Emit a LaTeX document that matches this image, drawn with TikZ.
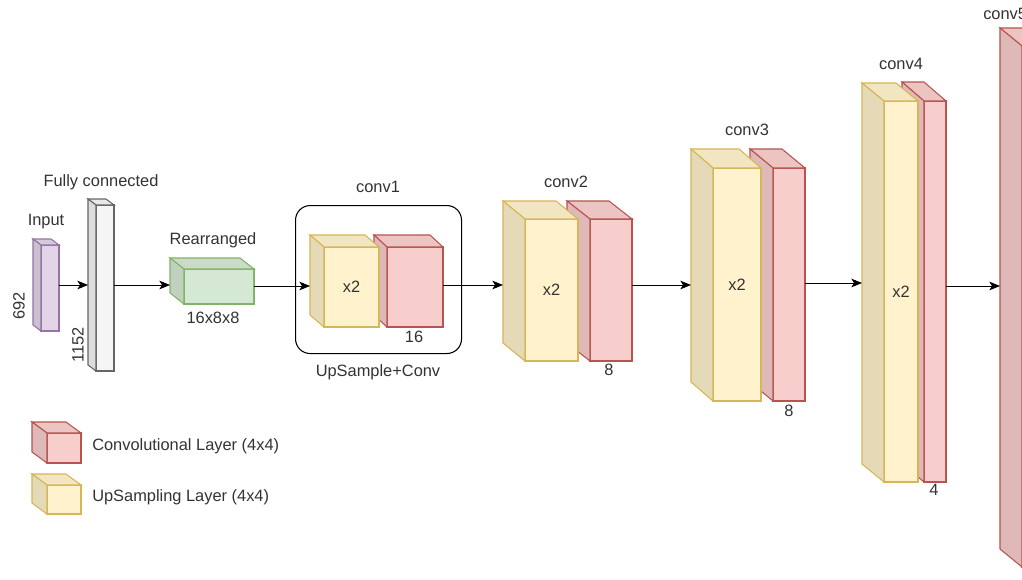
\documentclass[tikz,border=0pt]{standalone}
\usepackage{fontspec}
\setmainfont{Liberation Sans}
\usetikzlibrary{arrows.meta}
\definecolor{redF}{HTML}{F8CECC}\definecolor{redS}{HTML}{B85450}
\definecolor{yelF}{HTML}{FFF2CC}\definecolor{yelS}{HTML}{D6B656}
\definecolor{grnF}{HTML}{D5E8D4}\definecolor{grnS}{HTML}{82B366}
\definecolor{purF}{HTML}{E1D5E7}\definecolor{purS}{HTML}{9673A6}
\definecolor{gryF}{HTML}{F5F5F5}\definecolor{gryS}{HTML}{666666}
\definecolor{txt}{HTML}{333333}
% #1 name, #2 x, #3 y(top), #4 w, #5 h, #6 dx, #7 dy, #8 colour prefix
\newcommand{\cubebox}[8]{%
  \node[cubenode, minimum width={#4*0.75pt}, minimum height={#5*0.75pt}] (#1) at (#2,#3) {};
  \filldraw[cubeline, fill=#8F, draw=#8S] (#2+#6,#3+#7) rectangle (#2+#4,#3+#5);
  \filldraw[cubeline, fill=#8F!95!black, draw=#8S] (#2,#3) -- (#2+#4-#6,#3) -- (#2+#4,#3+#7) -- (#2+#6,#3+#7) -- cycle;
  \filldraw[cubeline, fill=#8F!90!black, draw=#8S] (#2,#3) -- (#2+#6,#3+#7) -- (#2+#6,#3+#5) -- (#2,#3+#5-#7) -- cycle;
  \coordinate (#1-f) at ({#2+(#6+#4)/2},{#3+(#7+#5)/2});
}
\begin{document}
\begin{tikzpicture}[x=0.75pt,y=-0.75pt,
  cubenode/.style={rectangle, anchor=north west, inner sep=0pt, outer sep=0pt, draw=none},
  cubeline/.style={line width=0.8pt, line join=miter},
  lbl/.style={font=\fontsize{12.3}{14}\selectfont, text=txt, inner sep=0pt},
  arr/.style={-{Stealth[length=8pt,width=6.5pt,inset=2pt]}, line width=0.75pt, black},
  grp/.style={draw=black, line width=0.8pt, rounded corners=11pt}]
\useasboundingbox (0,0) rectangle (1022,579);
\clip (0,0) rectangle (1022,579);
\fill[white] (0,0) rectangle (1022,579);
\coordinate (ay) at (0,285);
\coordinate (ay2) at (0,286);
\coordinate (ay3) at (0,283);
% conv1 group box
\node[grp, anchor=north west, minimum width={166*0.75pt}, minimum height={148*0.75pt}, inner sep=0pt] (grp1) at (295,205) {};
% cubes
\cubebox{in}{33}{239}{26}{92}{8}{6}{pur}
\cubebox{fc}{88}{199}{26}{172}{8}{6}{gry}
\cubebox{rear}{170}{258}{84}{46}{14}{11}{grn}
\cubebox{c1r}{374}{235}{69}{92}{13}{12}{red}
\cubebox{c1y}{310}{235}{69}{92}{14}{12}{yel}
\cubebox{c2r}{567}{201}{65}{160}{23}{18}{red}
\cubebox{c2y}{503}{201}{75}{160}{22}{18}{yel}
\cubebox{c3r}{750}{149}{55}{252}{23}{19}{red}
\cubebox{c3y}{691}{149}{70}{252}{22}{19}{yel}
\cubebox{c4r}{902}{82}{44}{400}{22}{19}{red}
\cubebox{c4y}{862}{83}{56}{399}{22}{18}{yel}
\cubebox{c5}{1000}{28}{80}{539}{22}{18}{red}
\cubebox{lr}{32}{422}{49}{41}{15}{11}{red}
\cubebox{ly}{32}{474}{49}{40}{15}{11}{yel}
% arrows
\draw[arr] (in.east |- ay) -- (fc.west |- ay);
\draw[arr] (fc.east |- ay) -- (rear.west |- ay);
\draw[arr] (rear.east |- ay2) -- (c1y.west |- ay2);
\draw[arr] (c1r.east |- ay) -- (c2y.west |- ay);
\draw[arr] (c2r.east |- ay) -- (c3y.west |- ay);
\draw[arr] (c3r.east |- ay3) -- (c4y.west |- ay3);
\draw[arr] (c4r.east |- ay2) -- (c5.west |- ay2);
% labels
\node[lbl] (tin) at (46,222) {Input};
\node[lbl, rotate=90] (t692) at (19,306) {692};
\node[lbl] (tfc) at (101,182) {Fully connected};
\node[lbl, rotate=90] (t1152) at (78,345) {1152};
\node[lbl] (trear) at (213,240) {Rearranged};
\node[lbl] (tdim) at (213,318) {16x8x8};
\node[lbl] (tc1) at (378,187) {conv1};
\node[lbl] (tup) at (378,372) {UpSample+Conv};
\node[lbl] at (c1y-f) {x2};
\node[lbl] (n16) at (414,337) {16};
\node[lbl] (tc2) at (566,182) {conv2};
\node[lbl] at (c2y-f) {x2};
\node[lbl] (n8a) at (609,370) {8};
\node[lbl] (tc3) at (747,130) {conv3};
\node[lbl] at (c3y-f) {x2};
\node[lbl] (n8b) at (789,411) {8};
\node[lbl] (tc4) at (901,64) {conv4};
\node[lbl] at (c4y-f) {x2};
\node[lbl] (n4) at (934,490) {4};
\node[lbl, anchor=west] (tc5) at (983,14) {conv5};
\node[lbl, anchor=west] (tl1) at (92,446) {Convolutional Layer (4x4)};
\node[lbl, anchor=west] (tl2) at (92,497) {UpSampling Layer (4x4)};
\end{tikzpicture}
\end{document}
